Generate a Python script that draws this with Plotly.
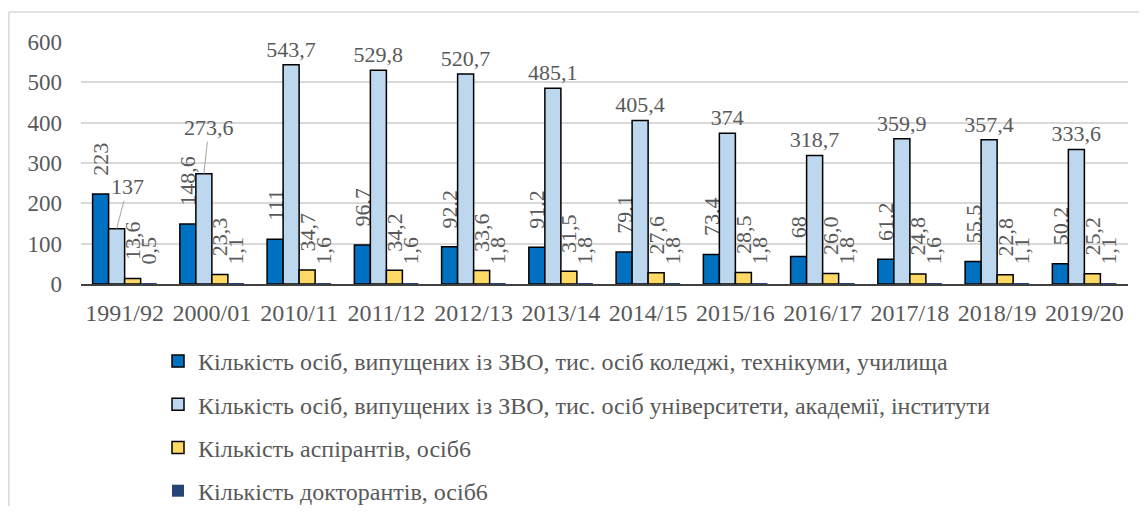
import plotly.graph_objects as go

categories = ["1991/92", "2000/01", "2010/11", "2011/12", "2012/13", "2013/14",
              "2014/15", "2015/16", "2016/17", "2017/18", "2018/19", "2019/20"]
colleges = [223, 148.6, 111, 96.7, 92.2, 91.2, 79.1, 73.4, 68, 61.2, 55.5, 50.2]
universities = [137, 273.6, 543.7, 529.8, 520.7, 485.1, 405.4, 374, 318.7, 359.9, 357.4, 333.6]
aspirants = [13.6, 23.3, 34.7, 34.2, 33.6, 31.5, 27.6, 28.5, 26.0, 24.8, 22.8, 25.2]
doctorants = [0.5, 1.1, 1.6, 1.6, 1.8, 1.8, 1.8, 1.8, 1.8, 1.6, 1.1, 1.1]

names = [
    "Кількість осіб, випущених із ЗВО, тис. осіб коледжі, технікуми, училища",
    "Кількість осіб, випущених із ЗВО, тис. осіб університети, академії, інститути",
    "Кількість аспірантів, осіб6",
    "Кількість докторантів, осіб6",
]
colors = ["#0070C0", "#BDD7EE", "#FFD966", "#264478"]

FONT = "Liberation Serif, DejaVu Serif, serif"
TXT = "#595959"
PAD = "\u00a0\u00a0\u2009"  # gap between rotated labels and bar ends


def fmt_g(v):
    return f"{v:g}".replace(".", ",")


def fmt_1(v):
    return f"{v:.1f}".replace(".", ",")


# series 2 labels moved by hand in the original (with leader lines)
moved = [0, 1]

fig = go.Figure()
series = [
    (colleges, [PAD + fmt_g(v) for v in colleges], -90, True),
    (universities, ["" if i in moved else fmt_g(v) for i, v in enumerate(universities)], 0, True),
    (aspirants, [PAD + fmt_1(v) for v in aspirants], -90, True),
    (doctorants, [PAD + fmt_1(v) for v in doctorants], -90, False),
]
for i, (vals, txt, ang, outline) in enumerate(series):
    fig.add_trace(go.Bar(
        x=categories, y=vals, name=names[i], text=txt,
        textposition="outside", textangle=ang, constraintext="none",
        cliponaxis=False,
        textfont=dict(family=FONT, size=22, color=TXT),
        marker=dict(color=colors[i],
                    line=dict(color="#000000", width=1.5 if outline else 0)),
        legendgroup=f"g{i}",
    ))

offsets = {0: (11, -42), 1: (5, -46)}
for i in moved:
    ax, ay = offsets[i]
    fig.add_annotation(
        x=categories[i], y=universities[i], xref="x", yref="y",
        xshift=-8, text=fmt_g(universities[i]), showarrow=True,
        arrowhead=0, arrowwidth=1, arrowcolor="#A6A6A6", ax=ax, ay=ay,
        font=dict(family=FONT, size=22, color=TXT), standoff=0,
    )

# page has an 8px body margin: figure sits at (8, 8) in the window
OFF = 8
W, H = 1147 - 2 * OFF, 514 - 2 * OFF
plot_left, plot_right, plot_top, plot_bottom = 81, 1128, 42, 284  # window px
L = plot_left - OFF
R = W - (plot_right - OFF)
T = plot_top - OFF
B = H - (plot_bottom - OFF)
pw, ph = W - L - R, H - T - B


def px(xw):
    return (xw - OFF - L) / pw


def py(yw):
    return (H - B - (yw - OFF)) / ph


fig.add_shape(type="line", xref="paper", yref="paper",
              x0=px(OFF + 0.8), y0=py(530), x1=px(OFF + 0.8), y1=py(12),
              line=dict(color="#D9D9D9", width=1.5))
fig.add_shape(type="line", xref="paper", yref="paper",
              x0=px(OFF + 0.8), y0=py(12), x1=px(1160), y1=py(12),
              line=dict(color="#D9D9D9", width=1.5))

fig.update_layout(
    width=W, height=H,
    margin=dict(l=L, r=R, t=T, b=B, autoexpand=False),
    paper_bgcolor="white", plot_bgcolor="white",
    barmode="group", bargap=0.266, bargroupgap=0,
    font=dict(family=FONT, color=TXT, size=22),
    showlegend=True,
    legend=dict(
        orientation="v", x=px(158), xanchor="left", y=py(339), yanchor="top",
        font=dict(family=FONT, size=24, color=TXT),
        traceorder="grouped", tracegroupgap=9,
        bgcolor="rgba(0,0,0,0)",
    ),
    xaxis=dict(
        type="category", showgrid=False, showline=True, linecolor="#404040",
        linewidth=1.5, ticks="", tickfont=dict(family=FONT, size=24, color=TXT),
        ticklabelstandoff=6, automargin=False,
    ),
    yaxis=dict(
        range=[0, 600], tickvals=[0, 100, 200, 300, 400, 500, 600],
        showgrid=True, gridcolor="#D9D9D9", gridwidth=1.5, zeroline=False,
        showline=False, ticks="", tickfont=dict(family=FONT, size=23, color=TXT),
        ticklabelstandoff=18, automargin=False,
    ),
)

fig.write_html("out.html")
